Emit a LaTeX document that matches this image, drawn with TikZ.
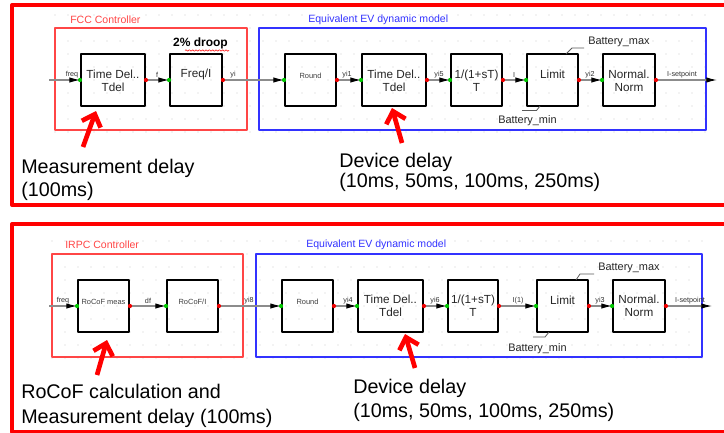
\documentclass[tikz,border=0pt]{standalone}
\usepackage{fontspec}
\setmainfont{Liberation Sans}
\usetikzlibrary{arrows.meta,decorations.pathmorphing}
\definecolor{frred}{RGB}{255,0,0}
\definecolor{boxred}{RGB}{255,70,70}
\definecolor{boxblue}{RGB}{50,50,255}
\definecolor{sigc}{RGB}{140,140,140}
\definecolor{dotgreen}{RGB}{0,200,0}
\definecolor{dotred}{RGB}{240,0,0}
\definecolor{gridc}{RGB}{205,205,205}
\begin{document}
\begin{tikzpicture}[x=0.75pt,y=-0.75pt,line join=round,
  frame/.style={draw=frred,line width=3pt},
  ctrl/.style={draw=boxred,line width=0.8pt},
  evm/.style={draw=boxblue,line width=0.8pt},
  blk/.style={draw=black,line width=1.4pt,minimum height=39pt,inner sep=0pt},
  btxt/.style={font=\fontsize{8.8}{9.8}\selectfont,align=center,text=black!85,inner sep=0pt},
  stxt/.style={font=\fontsize{5.6}{6.5}\selectfont,text=black!75,inner sep=0pt},
  lab/.style={font=\fontsize{5.4}{6}\selectfont,text=black!80,inner sep=0pt,anchor=south},
  sig/.style={draw=sigc,line width=0.8pt,-{Latex[black,length=8pt,width=4pt]}},
  sigout/.style={draw=sigc,line width=0.8pt,-{Latex[black,length=8pt,width=4pt]}},
  big/.style={font=\fontsize{14.8}{17}\selectfont,anchor=base west,inner sep=0pt},
  ann/.style={draw=frred,line width=3.5pt,-{Straight Barb[length=8pt,width=15pt]}},
  limln/.style={draw=black!65,line width=0.6pt},
  batt/.style={font=\fontsize{8.2}{9}\selectfont,anchor=base west,inner sep=0pt,text=black!85},
  boxlab/.style={font=\fontsize{7.9}{9}\selectfont,anchor=west,inner sep=0pt}
]
\useasboundingbox (0,0) rectangle (724,432);
\clip (0,0) rectangle (724,432);
\fill[white] (0,0) rectangle (724,432);

% grid dots
\foreach \i in {-2,...,48}{\foreach \j in {-5,...,4}{
  \fill[gridc] ({81+13*\i},{80+13*\j}) circle (0.45pt);
  \fill[gridc] ({78+13*\i},{306+13*\j}) circle (0.45pt);}}

% outer frames
\draw[frame] (12,5) rectangle (740,205);
\draw[frame] (12,224) rectangle (740,431.5);

% ===== top panel =====
\draw[ctrl] (55,28) rectangle (247,130);
\node[boxlab,text=boxred] (fccl) at (70,20) {FCC Controller};
\draw[evm] (259,28) rectangle (706,130);
\node[boxlab,text=boxblue] (evl1) at (308,20) {Equivalent EV dynamic model};

\node[blk,minimum width=48pt] (tdA) at (113,80) {};
\node[blk,minimum width=39pt] (frA) at (196,80) {};
\node[blk,minimum width=38.25pt] (rdA) at (310.5,80) {};
\node[blk,minimum width=48pt] (tdB) at (394,80) {};
\node[blk,minimum width=38.25pt] (lpA) at (476.5,80) {};
\node[blk,minimum width=38.25pt] (limA) at (552.5,80) {};
\node[blk,minimum width=39pt] (nrA) at (629,80) {};

\node[btxt] (tdAt) at (113,80.5) {Time Del..\\Tdel};
\node[btxt] (frAt) at (196,74) {Freq/I};
\node[stxt] (rdAt) at (310.5,76) {Round};
\node[btxt] (tdBt) at (394,80.5) {Time Del..\\Tdel};
\node[btxt] (lpAt) at (476.5,80.5) {1/(1+sT)\\T};
\node[btxt] (limAt) at (552.5,74) {Limit};
\node[btxt] (nrAt) at (629,80.5) {Normal.\\Norm};

\node[font=\fontsize{9}{10}\selectfont\bfseries,inner sep=0pt] (droop) at (200.5,43) {2\% droop};
\draw[red,line width=0.4pt,decorate,decoration={snake,amplitude=0.6pt,segment length=2.5pt}] (185,50.5) -- (229,50.5);

\coordinate (inA) at (49,80);
\coordinate (outA) at (717,80);
\draw[sig] (inA) -- (tdA.west);
\draw[sig] (tdA.east) -- (frA.west);
\draw[sig] (frA.east) -- (rdA.west);
\draw[sig] (rdA.east) -- (tdB.west);
\draw[sig] (tdB.east) -- (lpA.west);
\draw[sig] (lpA.east) -- (limA.west);
\draw[sig] (limA.east) -- (nrA.west);
\draw[sigout] (nrA.east) -- (outA);
\foreach \b in {tdA,frA,rdA,tdB,lpA,limA,nrA}{
  \fill[dotgreen] (\b.west) circle (1.6pt);
  \fill[dotred] (\b.east) circle (1.6pt);}

\node[lab] (lfreqA) at (72,78) {freq};
\node[lab] (lfA) at (157,78) {f};
\node[lab] (lyiA) at (233,78) {yi};
\node[lab] (lyi1) at (347,78) {yi1};
\node[lab] (lyi5) at (439,78) {yi5};
\node[lab] (lIA) at (514,78) {I};
\node[lab] (lyi2) at (590,78) {yi2};
\node[lab] (lspA) at (682,78) {I-setpoint};

\draw[limln] (566,54) -- (572,48) -- (584,48);
\node[batt] (bmaxA) at (588,44) {Battery\_max};
\draw[limln] (540,106) -- (536.5,110.5) -- (522,110.5);
\node[batt] (bminA) at (498,123) {Battery\_min};

\coordinate (a1t) at (83,147);
\coordinate (a1h) at (96,111);
\draw[ann] (a1t) -- (a1h);
\coordinate (a2t) at (402,143);
\coordinate (a2h) at (392,108);
\draw[ann] (a2t) -- (a2h);

\node[big] (m1) at (21,173) {Measurement delay};
\node[big] (m2) at (21,196) {(100ms)};
\node[big] (d1) at (339,167) {Device delay};
\node[big] (d2) at (339,187) {(10ms, 50ms, 100ms, 250ms)};

% ===== bottom panel =====
\draw[ctrl] (52,254) rectangle (243,357);
\node[boxlab,text=boxred] (irpcl) at (65,245) {IRPC Controller};
\draw[evm] (256,254) rectangle (702,357);
\node[boxlab,text=boxblue] (evl2) at (306,245) {Equivalent EV dynamic model};

\node[blk,minimum width=38.25pt] (rcA) at (103.5,306) {};
\node[blk,minimum width=38.25pt] (rcB) at (192.5,306) {};
\node[blk,minimum width=38.25pt] (rdC) at (307.5,306) {};
\node[blk,minimum width=48.75pt] (tdC) at (390.5,306) {};
\node[blk,minimum width=37.5pt] (lpB) at (473,306) {};
\node[blk,minimum width=38.25pt] (limB) at (562.5,306) {};
\node[blk,minimum width=39pt] (nrB) at (639,306) {};

\node[stxt] (rcAt) at (103.5,302) {RoCoF meas};
\node[stxt] (rcBt) at (192.5,302) {RoCoF/I};
\node[stxt] (rdCt) at (307.5,302) {Round};
\node[btxt] (tdCt) at (390.5,306) {Time Del..\\Tdel};
\node[btxt] (lpBt) at (473,306) {1/(1+sT)\\T};
\node[btxt] (limBt) at (562.5,300) {Limit};
\node[btxt] (nrBt) at (639,306) {Normal.\\Norm};

\coordinate (inB) at (49,306);
\coordinate (outB) at (712,306);
\draw[sig] (inB) -- (rcA.west);
\draw[sig] (rcA.east) -- (rcB.west);
\draw[sig] (rcB.east) -- (rdC.west);
\draw[sig] (rdC.east) -- (tdC.west);
\draw[sig] (tdC.east) -- (lpB.west);
\draw[sig] (lpB.east) -- (limB.west);
\draw[sig] (limB.east) -- (nrB.west);
\draw[sigout] (nrB.east) -- (outB);
\foreach \b in {rcA,rcB,rdC,tdC,lpB,limB,nrB}{
  \fill[dotgreen] (\b.west) circle (1.6pt);
  \fill[dotred] (\b.east) circle (1.6pt);}

\node[lab] (lfreqB) at (63,304) {freq};
\node[lab] (ldf) at (148,304) {df};
\node[lab] (lyi8) at (249,304) {yi8};
\node[lab] (lyi4) at (348,304) {yi4};
\node[lab] (lyi6) at (435,304) {yi6};
\node[lab] (lI1) at (518,304) {I(1)};
\node[lab] (lyi3) at (600,304) {yi3};
\node[lab] (lspB) at (690,304) {I-setpoint};

\draw[limln] (576,280) -- (580,274) -- (594,274);
\node[batt] (bmaxB) at (598,270) {Battery\_max};
\draw[limln] (549,332) -- (545,337) -- (533,337);
\node[batt] (bminB) at (508,351) {Battery\_min};

\coordinate (a3t) at (97,375);
\coordinate (a3h) at (107,340);
\draw[ann] (a3t) -- (a3h);
\coordinate (a4t) at (415,368);
\coordinate (a4h) at (405,334);
\draw[ann] (a4t) -- (a4h);

\node[big] (r1) at (21,398) {RoCoF calculation and};
\node[big] (r2) at (21,423) {Measurement delay (100ms)};
\node[big] (e1) at (353,393) {Device delay};
\node[big] (e2) at (353,417) {(10ms, 50ms, 100ms, 250ms)};
\end{tikzpicture}
\end{document}
